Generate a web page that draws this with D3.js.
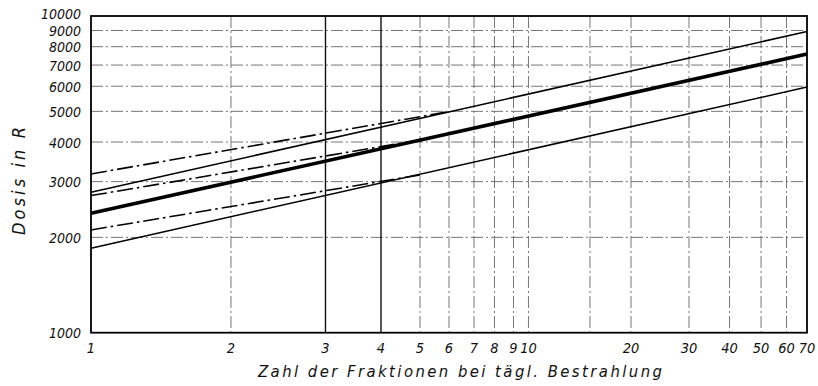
<!DOCTYPE html>
<html><head><meta charset="utf-8">
<script src="https://cdn.jsdelivr.net/npm/d3@7"></script>
<style>body{margin:0;background:#fff} svg{display:block}</style>
</head><body><svg id="c" width="818" height="386"></svg>
<script>
// ---- data ----
const xTicks = [1, 2, 3, 4, 5, 6, 7, 8, 9, 10, 15, 20, 30, 40, 50, 60, 70];
const xTickLabels = ["1", "2", "3", "4", "5", "6", "7", "8", "9", "10", "", "20", "30", "40", "50", "60", "70"];
// relative position of each x tick along the (hand-drawn, non-uniform) abscissa
const xAxisCalib = [0, 0.1955, 0.3275, 0.405, 0.4595, 0.5, 0.5349, 0.5635, 0.5901, 0.611, 0.6969, 0.7542, 0.8352, 0.8918, 0.9358, 0.9714, 1];
const yTicks = [1000, 2000, 3000, 4000, 5000, 6000, 7000, 8000, 9000, 10000];
const yTickLabels = ["1000", "2000", "3000", "4000", "5000", "6000", "7000", "8000", "9000", "10000"];

const fractions = [1, 70];
const upperSolid = [2777, 8933];
const meanThick = [2384, 7580];
const lowerSolid = [1848, 5964];
const ddUpperN = [1, 6];
const ddUpper = [3172, 4988];
const ddMiddleN = [1, 5];
const ddMiddle = [2710, 4058];
const ddLowerN = [1, 5];
const ddLower = [2111, 3150];

// ---- layout ----
const L = 91, R = 807, T = 16, B = 332.7;
const svg = d3.select("#c");
const FONT = "'Liberation Sans Narrow', 'DejaVu Sans Condensed', sans-serif";

const xl = d3.scaleLinear()
  .domain(xTicks.map(Math.log10))
  .range(xAxisCalib.map(f => L + f * (R - L)));
const x = n => xl(Math.log10(n));
const y = d3.scaleLog().domain([1000, 10000]).range([B, T]);

// ---- grid ----
const g = svg.append("g");
yTicks.slice(1, -1).forEach(v => {
  g.append("line").attr("x1", L).attr("x2", R).attr("y1", y(v)).attr("y2", y(v))
    .attr("stroke", "#666").attr("stroke-width", 0.9).attr("stroke-dasharray", "12,3,2,3");
});
xTicks.slice(1, -1).forEach(n => {
  const solid = (n === 3 || n === 4);
  g.append("line").attr("x1", x(n)).attr("x2", x(n)).attr("y1", T).attr("y2", B)
    .attr("stroke", solid ? "#111" : "#666")
    .attr("stroke-width", solid ? 1.4 : 0.9)
    .attr("stroke-dasharray", solid ? null : "12,3,2,3");
});

// ---- curves ----
const line = d3.line().x(d => x(d[0])).y(d => y(d[1]));
function draw(ns, vs, w, dash) {
  svg.append("path").datum(ns.map((n, i) => [n, vs[i]]))
    .attr("d", line).attr("fill", "none").attr("stroke", "#000")
    .attr("stroke-width", w).attr("stroke-dasharray", dash);
}
draw(fractions, upperSolid, 1.5, null);
draw(fractions, meanThick, 3.6, null);
draw(fractions, lowerSolid, 1.5, null);
draw(ddUpperN, ddUpper, 1.6, "16,4,2.5,4");
draw(ddMiddleN, ddMiddle, 1.6, "16,4,2.5,4");
draw(ddLowerN, ddLower, 1.6, "16,4,2.5,4");

// ---- frame ----
svg.append("rect").attr("x", L).attr("y", T).attr("width", R - L).attr("height", B - T)
  .attr("fill", "none").attr("stroke", "#000").attr("stroke-width", 1.8);

// ---- tick labels ----
yTicks.forEach((v, i) => {
  const top = i === yTicks.length - 1;
  svg.append("text").attr("x", 81).attr("y", y(v) + (top ? 3 : 5.5))
    .attr("text-anchor", "end")
    .style("font-family", FONT).style("font-style", "italic")
    .style("font-size", "14px").attr("fill", "#111").text(yTickLabels[i]);
});
xTicks.forEach((n, i) => {
  if (!xTickLabels[i]) return;
  svg.append("text").attr("x", x(n)).attr("y", 352.5)
    .attr("text-anchor", "middle")
    .style("font-family", FONT).style("font-style", "italic")
    .style("font-size", "14.5px").attr("fill", "#111").text(xTickLabels[i]);
});

// ---- axis titles ----
svg.append("text").attr("x", 258).attr("y", 376.7)
  .attr("textLength", 404).attr("lengthAdjust", "spacing")
  .style("font-family", FONT).style("font-style", "italic")
  .style("font-size", "16.5px").attr("fill", "#111")
  .text("Zahl der Fraktionen bei tägl. Bestrahlung");
svg.append("text").attr("transform", "translate(25,235) rotate(-90)")
  .attr("x", 0).attr("y", 0)
  .attr("textLength", 108).attr("lengthAdjust", "spacing")
  .style("font-family", FONT).style("font-style", "italic")
  .style("font-size", "18px").attr("fill", "#111")
  .text("Dosis in R");
</script></body></html>
